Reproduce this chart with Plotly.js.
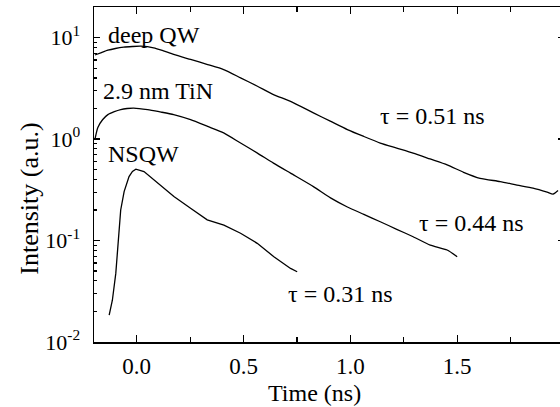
<!DOCTYPE html>
<html>
<head>
<meta charset="utf-8">
<script src="https://cdn.plot.ly/plotly-3.0.1.min.js"></script>
<style>
html,body{margin:0;padding:0;overflow:hidden;background:#fff;}
#chart{width:570px;height:407px;}
</style>
</head>
<body>
<div id="chart"></div>
<script>
// Time (ns) and intensity (a.u.)
const deepQW_t = [-0.196,-0.165,-0.135,-0.100,-0.061,-0.020,0.019,0.079,0.125,0.173,0.252,0.332,0.407,0.486,0.565,0.640,0.720,0.827,0.906,0.986,1.063,1.140,1.217,1.294,1.373,1.453,1.530,1.607,1.701,1.780,1.855,1.921,1.949,1.972];
const deepQW_I = [6.73,7.12,7.50,7.80,8.04,8.16,8.22,7.93,7.40,6.81,6.08,5.42,4.84,4.01,3.31,2.74,2.35,1.81,1.50,1.24,1.06,0.913,0.815,0.727,0.637,0.557,0.470,0.410,0.381,0.352,0.328,0.300,0.287,0.311];

const tin_t = [-0.196,-0.182,-0.160,-0.135,-0.105,-0.075,-0.045,-0.014,0.051,0.110,0.173,0.252,0.332,0.407,0.486,0.565,0.640,0.720,0.827,0.907,0.986,1.063,1.140,1.217,1.294,1.374,1.453,1.500];
const tin_I = [0.984,1.30,1.55,1.74,1.86,1.95,2.00,2.02,1.95,1.85,1.74,1.55,1.33,1.15,0.913,0.727,0.579,0.461,0.340,0.263,0.214,0.181,0.153,0.129,0.109,0.0902,0.0806,0.0692];

const nsqw_t = [-0.129,-0.114,-0.098,-0.075,-0.059,-0.036,-0.020,-0.004,0.034,0.097,0.174,0.252,0.290,0.330,0.408,0.486,0.564,0.642,0.720,0.751];
const nsqw_I = [0.0184,0.0258,0.0474,0.200,0.303,0.427,0.480,0.505,0.478,0.368,0.271,0.208,0.182,0.160,0.142,0.118,0.0938,0.0692,0.0531,0.0492];

const xTickVals = [0, 0.5, 1.0, 1.5];
const xTickText = ["0.0", "0.5", "1.0", "1.5"];
const yTickVals = [0.01, 0.1, 1, 10];
const yTickText = ["10<sup>-2</sup>", "10<sup>-1</sup>", "10<sup>0</sup>", "10<sup>1</sup>"];

const seriesLabels = ["deep QW", "2.9 nm TiN", "NSQW"];
const tauLabels = ["τ = 0.51 ns", "τ = 0.44 ns", "τ = 0.31 ns"];
const xTitle = "Time (ns)";
const yTitle = "Intensity (a.u.)";

const FONT = "Liberation Serif, serif";
const lineStyle = {color: "#000", width: 1.3, shape: "spline", smoothing: 0.6};

const traces = [
  {x: deepQW_t, y: deepQW_I, mode: "lines", line: lineStyle, showlegend: false},
  {x: tin_t, y: tin_I, mode: "lines", line: lineStyle, showlegend: false},
  {x: nsqw_t, y: nsqw_I, mode: "lines", line: {color: "#000", width: 1.3}, showlegend: false}
];

const minorY = [];
for (let e = -2; e <= 1; e++) {
  for (let d = 2; d <= 9; d++) minorY.push(d * Math.pow(10, e));
}

function ann(text, x, y, xanchor) {
  return {text: text, x: x, y: Math.log10(y), xref: "x", yref: "y", showarrow: false,
    xanchor: xanchor || "left", yanchor: "middle", font: {family: FONT, size: 24, color: "#000"}};
}

const layout = {
  width: 570, height: 407,
  margin: {l: 94, r: 6, t: 7, b: 65},
  paper_bgcolor: "#fff", plot_bgcolor: "#fff",
  font: {family: FONT, size: 22, color: "#000"},
  xaxis: {
    range: [-0.2, 2.0], showgrid: false, zeroline: false,
    showline: true, linecolor: "#000", linewidth: 1.5, mirror: "ticks",
    ticks: "inside", ticklen: 7, tickwidth: 1.2, tickcolor: "#000",
    tickmode: "array", tickvals: xTickVals, ticktext: xTickText,
    ticklabelstandoff: 3,
    minor: {ticks: "inside", ticklen: 5, tickwidth: 1.2, tickcolor: "#000", dtick: 0.25, tick0: 0, showgrid: false},
    tickfont: {family: FONT, size: 23, color: "#000"}
  },
  yaxis: {
    type: "log", range: [-2, Math.log10(20)], showgrid: false, zeroline: false,
    showline: true, linecolor: "#000", linewidth: 1.5, mirror: "ticks",
    ticks: "inside", ticklen: 6, tickwidth: 1.2, tickcolor: "#000",
    tickmode: "array", tickvals: yTickVals, ticktext: yTickText,
    ticklabelstandoff: 8,
    minor: {ticks: "inside", ticklen: 3, tickwidth: 1.2, tickcolor: "#000", tickmode: "array", tickvals: minorY, showgrid: false},
    tickfont: {family: FONT, size: 22, color: "#000"}
  },
  annotations: [
    ann(seriesLabels[0], -0.145, 10.5),
    ann(seriesLabels[1], -0.165, 2.95),
    ann(seriesLabels[2], -0.145, 0.72),
    ann(tauLabels[0], 1.13, 1.7),
    ann(tauLabels[1], 1.31, 0.15),
    ann(tauLabels[2], 0.70, 0.030),
    {text: yTitle, xref: "paper", yref: "paper", x: -0.136, y: 0.428, textangle: -90,
     showarrow: false, xanchor: "center", yanchor: "middle", font: {family: FONT, size: 26, color: "#000"}},
    {text: xTitle, xref: "paper", yref: "paper", x: 0.47, y: -0.153,
     showarrow: false, xanchor: "center", yanchor: "middle", font: {family: FONT, size: 24, color: "#000"}}
  ]
};

Plotly.newPlot("chart", traces, layout, {displayModeBar: false, staticPlot: true});
</script>
</body>
</html>
